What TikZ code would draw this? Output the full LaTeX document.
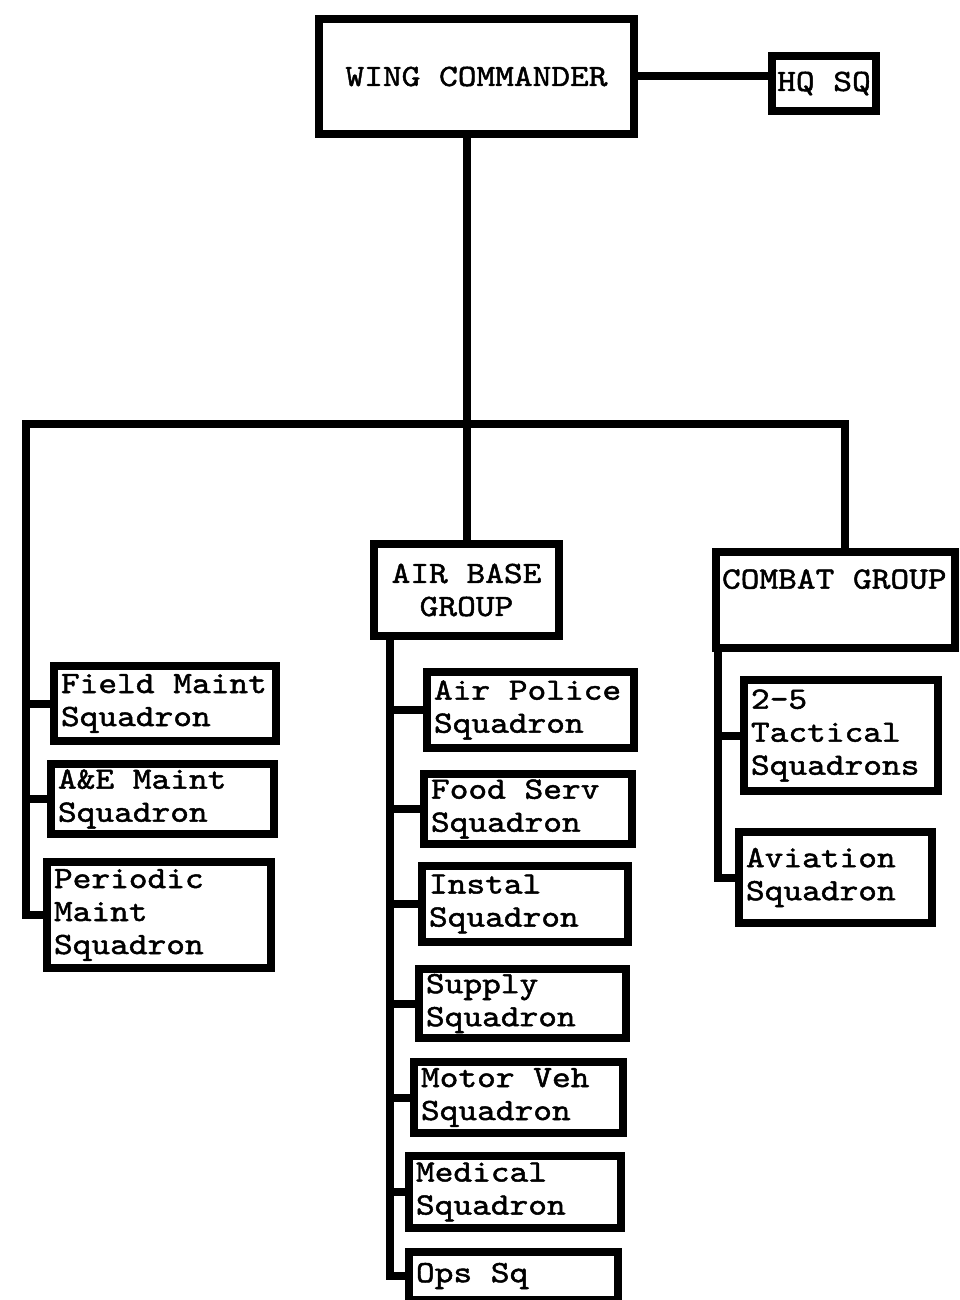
\documentclass[tikz,border=0pt]{standalone}
\usepackage{fontspec}
\newfontfamily\typefont[FakeBold=1.5, FakeStretch=1.15]{lmmono10-regular.otf}
\usepackage{tikz}
\usetikzlibrary{calc, positioning}

\begin{document}
\begin{tikzpicture}[
    x=1pt, y=-1pt,
    font=\typefont\fontsize{31}{33}\selectfont,
    box/.style={
        rectangle, draw=black, line width=8pt, fill=white,
        anchor=north west, inner xsep=7pt, inner ysep=2pt
    },
    unit/.style={
        box, align=left,
        execute at begin node={\spaceskip=0pt\xspaceskip=0pt\relax}
    },
    head/.style={
        box, align=center
    },
    link/.style={
        line width=8pt, draw=black, line join=miter
    }
]
    \useasboundingbox (0,0) rectangle (959,1300);

    % =========================================================================
    % TOP: WING COMMANDER AND HQ SQ
    % =========================================================================
    \node [head, minimum width=315pt, minimum height=115pt] (wing_cmdr) at (315,15) {WING COMMANDER};
    \node [head, minimum width=104pt, minimum height=55pt, inner xsep=2pt] (hq_sq) at (768,52) {HQ SQ};
    \draw [link] (wing_cmdr.east) -- (wing_cmdr.east -| hq_sq.west);

    % =========================================================================
    % GROUPS
    % =========================================================================
    \node [head, minimum width=185pt, minimum height=92pt] (air_base) at (370,540) {AIR BASE\\GROUP};
    \node [unit, inner xsep=6pt, text width=227pt, minimum height=96pt, text depth=42pt] (combat_group) at (712,548) {COMBAT GROUP};

    \coordinate (bar_left) at (26,424);
    \coordinate (bar_right) at (845,424);

    % =========================================================================
    % MAINTENANCE SQUADRONS (LEFT)
    % =========================================================================
    \node [unit, text width=208pt, minimum height=75pt] (field_maint) at (50,662) {Field Maint\\Squadron};
    \node [unit, text width=209pt, minimum height=70pt] (ae_maint) at (47,760) {A\&E Maint\\Squadron};
    \node [unit, text width=210pt, minimum height=106pt] (periodic_maint) at (43,858) {Periodic\\Maint\\Squadron};

    % =========================================================================
    % AIR BASE GROUP SQUADRONS (MIDDLE)
    % =========================================================================
    \node [unit, text width=193pt, minimum height=76pt] (air_police) at (423,668) {Air Police\\Squadron};
    \node [unit, text width=194pt, minimum height=70pt] (food_serv) at (420,770) {Food Serv\\Squadron};
    \node [unit, text width=192pt, minimum height=76pt] (instal) at (418,862) {Instal\\Squadron};
    \node [unit, text width=193pt, minimum height=69pt] (supply) at (415,965) {Supply\\Squadron};
    \node [unit, text width=195pt, minimum height=71pt] (motor_veh) at (410,1058) {Motor Veh\\Squadron};
    \node [unit, text width=198pt, minimum height=72pt] (medical) at (405,1152) {Medical\\Squadron};
    \node [unit, text width=195pt, minimum height=48pt] (ops_sq) at (405,1248) {Ops Sq};

    \coordinate (abg_spine) at (390,636);

    % =========================================================================
    % COMBAT GROUP SQUADRONS (RIGHT)
    % =========================================================================
    \node [unit, text width=180pt, minimum height=111pt] (tactical) at (740,676) {2-5\\Tactical\\Squadrons};
    \node [unit, text width=179pt, minimum height=91pt] (aviation) at (735,828) {Aviation\\Squadron};

    \coordinate (combat_spine) at (718,648);

    % =========================================================================
    % CONNECTIONS
    % =========================================================================
    % Wing Commander down to Air Base Group
    \draw [link] (wing_cmdr.south -| air_base.north) -- (air_base.north);

    % Long bar: maintenance spine, across, down to Combat Group
    \draw [link] (periodic_maint.west) -| (bar_left) -- (bar_right) -- (bar_right |- combat_group.north);
    \foreach \sq in {field_maint, ae_maint}
        \draw [link] (\sq.west) -- (\sq.west -| bar_left);

    % Air Base Group spine
    \draw [link] (abg_spine) |- (ops_sq.west);
    \foreach \sq in {air_police, food_serv, instal, supply, motor_veh, medical}
        \draw [link] (\sq.west) -- (\sq.west -| abg_spine);

    % Combat Group spine
    \draw [link] (combat_spine) |- (aviation.west);
    \draw [link] (tactical.west) -- (tactical.west -| combat_spine);

\end{tikzpicture}
\end{document}
